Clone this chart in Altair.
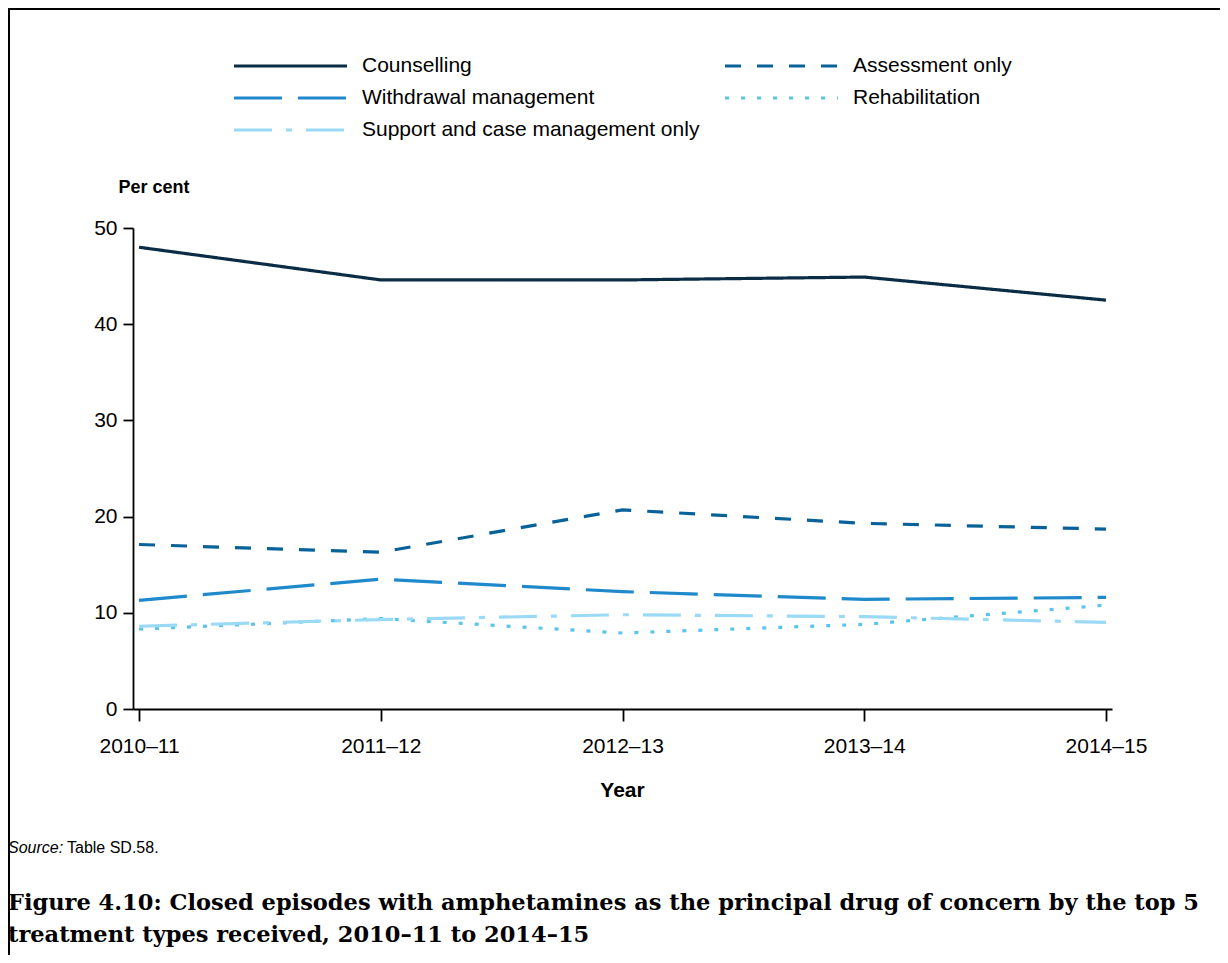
import altair as alt
import pandas as pd

years = ["2010–11", "2011–12", "2012–13", "2013–14", "2014–15"]
series = ["Counselling", "Assessment only", "Withdrawal management",
          "Rehabilitation", "Support and case management only"]
counselling = [48.0, 44.6, 44.6, 44.9, 42.5]
assessment = [17.1, 16.3, 20.7, 19.3, 18.7]
withdrawal = [11.3, 13.5, 12.2, 11.4, 11.6]
rehabilitation = [8.3, 9.4, 7.9, 8.8, 10.8]
support = [8.6, 9.3, 9.8, 9.6, 9.0]

colors = ["#0b2c45", "#08629a", "#1f89cc", "#5ac3ee", "#9bdaf6"]
dashes = [[1, 0], [16, 16], [48, 16], [4, 12], [38, 14, 6, 14]]

# legend fills column by column: order so rows read as in the reference
legend_order = ["Counselling", "Withdrawal management", "Support and case management only",
                "Assessment only", "Rehabilitation"]
col_of = dict(zip(series, colors))
dash_of = {s: d for s, d in zip(series, dashes)}
leg_colors = [col_of[s] for s in legend_order]
leg_dashes = [dash_of[s] for s in legend_order]

values = [counselling, assessment, withdrawal, rehabilitation, support]
rows = []
for s, vals in zip(series, values):
    for y, v in zip(years, vals):
        rows.append({"Year": y, "Series": s, "Value": v})
df = pd.DataFrame(rows)

FONT = "Liberation Sans"

legend = alt.Legend(
    title=None, orient="none", legendX=99, legendY=-173, columns=2,
    symbolType="stroke", symbolSize=12769, symbolStrokeWidth=3.2,
    labelFontSize=21, labelFont=FONT, labelColor="black", labelOffset=13,
    rowPadding=10, columnPadding=23, labelLimit=600, clipHeight=22,
)

lines = alt.Chart(df).mark_line(strokeWidth=3.2).encode(
    x=alt.X("Year:O", sort=years,
            scale=alt.Scale(type="point", padding=0.025),
            axis=alt.Axis(title="Year", labelAngle=0, tickSize=12,
                          labelPadding=14, labelFontSize=21, labelFont=FONT,
                          labelColor="black", domainColor="black", tickColor="black",
                          domainWidth=1.8, tickWidth=1.8,
                          titleFont=FONT, titleFontSize=21, titleFontWeight="bold",
                          titleX=489, titleY=81, titleBaseline="middle",
                          titleAlign="center", titleColor="black")),
    y=alt.Y("Value:Q", scale=alt.Scale(domain=[0, 50], nice=False, zero=True),
            axis=alt.Axis(title="Per cent", values=[0, 10, 20, 30, 40, 50], grid=False,
                          tickSize=10, labelPadding=6, labelFontSize=21, labelFont=FONT,
                          labelColor="black", domainColor="black", tickColor="black",
                          domainWidth=1.8, tickWidth=1.8,
                          titleFont=FONT, titleFontSize=18, titleFontWeight="bold",
                          titleAngle=0, titleX=-15, titleY=-41, titleAlign="left",
                          titleBaseline="middle", titleColor="black")),
    color=alt.Color("Series:N", scale=alt.Scale(domain=legend_order, range=leg_colors),
                    sort=legend_order, legend=legend),
    strokeDash=alt.StrokeDash("Series:N", scale=alt.Scale(domain=legend_order, range=leg_dashes),
                              sort=legend_order, legend=legend),
)

src1 = alt.Chart(pd.DataFrame({"t": ["Source:"]})).mark_text(
    font=FONT, fontSize=16, fontStyle="italic", align="left", baseline="middle",
    color="black").encode(text="t:N", x=alt.value(-125), y=alt.value(620))
src2 = alt.Chart(pd.DataFrame({"t": ["Table SD.58."]})).mark_text(
    font=FONT, fontSize=16, align="left", baseline="middle",
    color="black").encode(text="t:N", x=alt.value(-66), y=alt.value(620))

title_lines = ["Figure 4.10: Closed episodes with amphetamines as the principal drug of concern by the top 5",
               "treatment types received, 2010–11 to 2014–15"]
ttl = alt.Chart(pd.DataFrame({"t": [title_lines]})).mark_text(
    font="DejaVu Serif", fontSize=22.5, fontWeight="bold", align="left", baseline="middle",
    lineHeight=32, color="black").encode(text="t", x=alt.value(-125), y=alt.value(675))

top_rule = alt.Chart(pd.DataFrame({"a": [0]})).mark_rule(color="black", strokeWidth=2).encode(
    x=alt.value(-125), x2=alt.value(1087), y=alt.value(-219))
left_rule = alt.Chart(pd.DataFrame({"a": [0]})).mark_rule(color="black", strokeWidth=2).encode(
    x=alt.value(-124), y=alt.value(-220), y2=alt.value(727))

chart = alt.layer(lines, src1, src2, ttl, top_rule, left_rule).properties(
    width=979, height=481,
    autosize=alt.AutoSizeParams(type="none"),
    padding={"left": 125, "top": 220, "right": 108, "bottom": 246},
    background="white",
).configure_view(stroke=None)

chart.save("out.html", embed_options={"renderer": "svg", "actions": False})
